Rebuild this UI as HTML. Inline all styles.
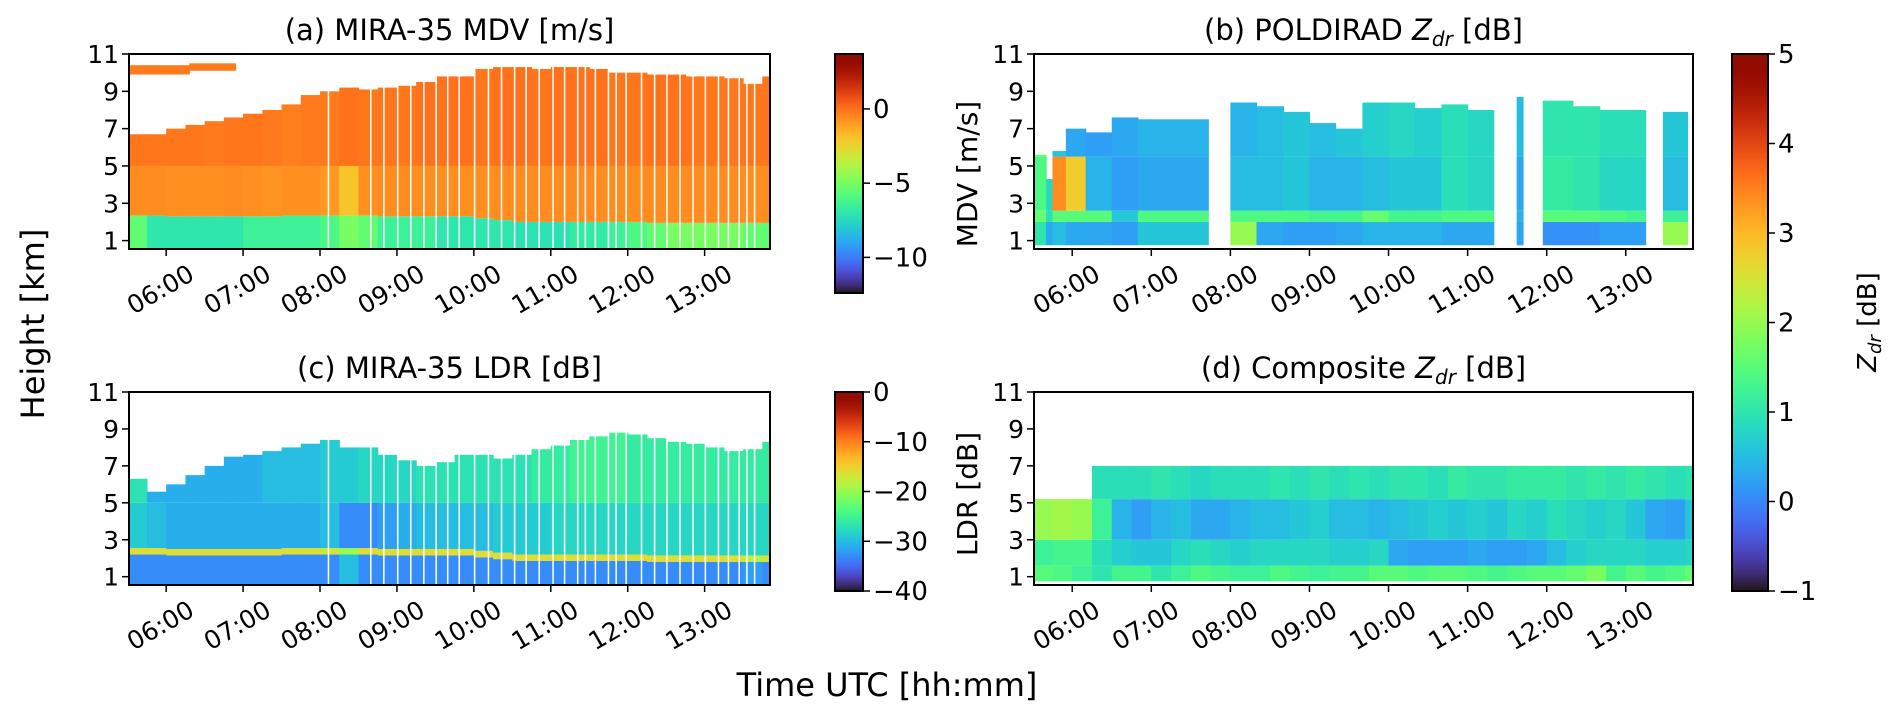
<!DOCTYPE html>
<html><head><meta charset="utf-8">
<style>
html,body{margin:0;padding:0;background:#fff;}
svg{display:block;font-family:"DejaVu Sans","Liberation Sans",sans-serif;}
</style></head>
<body>
<svg id="fig" width="1892" height="719" viewBox="0 0 1892 719" xmlns="http://www.w3.org/2000/svg">
<defs id="defs"></defs>
</svg>
<script>
// ---------- data ----------
const T0 = 5 + 31/60, T1 = 13 + 51/60;
const hourTicks = [6,7,8,9,10,11,12,13];
const hourLabels = ["06:00","07:00","08:00","09:00","10:00","11:00","12:00","13:00"];
const heightTicks = [1,3,5,7,9,11];
const binStart0 = 5.5, binWidth = 0.25;

// panel (a) MDV
const aTop = [6.7,6.7,7.0,7.2,7.4,7.6,7.8,8.0,8.3,8.8,9.0,9.2,9.1,9.2,9.3,9.5,9.8,9.8,10.2,10.3,10.3,10.2,10.3,10.3,10.2,10.0,10.0,9.9,9.9,9.8,9.8,9.7,9.4,9.8];
const aMl  = [2.35,2.35,2.3,2.3,2.3,2.3,2.3,2.3,2.35,2.35,2.35,2.35,2.35,2.3,2.3,2.3,2.3,2.3,2.2,2.1,2.0,2.0,2.0,2.0,2.0,2.0,2.0,1.95,1.95,1.95,1.95,1.95,1.95,1.95];
const aUp  = [-0.1,-0.1,-0.1,-0.1,-0.2,-0.1,-0.1,-0.2,-0.3,-0.2,-0.2,0.0,-0.1,-0.1,-0.1,0.0,0.0,0.0,-0.1,0.0,0.0,-0.1,0.0,0.0,0.0,-0.1,-0.1,0.0,0.0,-0.1,-0.1,-0.1,-0.1,-0.1];
const aMid = [-0.6,-0.6,-0.7,-0.7,-0.7,-0.6,-0.7,-0.8,-0.7,-0.7,-0.9,-2.0,-0.7,-0.6,-0.6,-0.7,-0.7,-0.7,-0.7,-0.6,-0.6,-0.6,-0.6,-0.6,-0.6,-0.6,-0.6,-0.6,-0.6,-0.6,-0.6,-0.6,-0.7,-0.6];
const aLow = [-5.5,-7,-7,-7,-7,-7,-6.5,-6.5,-6.5,-6.5,-6,-5,-5.5,-6.5,-6.5,-6.5,-7,-7,-7,-7,-7.2,-7.2,-7.2,-6.8,-6.8,-6.5,-6,-5.5,-5,-5,-5,-5,-5.5,-5.5];
const gapTimes = [8.10,8.65,8.82,9.00,9.17,9.34,9.50,9.65,9.80,10.00,10.18,10.35,10.52,10.67,10.84,11.02,11.17,11.34,11.44,11.57,11.74,11.84,11.97,12.17,12.34,12.50,12.67,12.84,13.00,13.17,13.30,13.44,13.54,13.64];

// panel (c) LDR
const cTop = [6.3,5.6,6.0,6.5,7.0,7.5,7.6,7.8,8.0,8.2,8.4,8.0,8.0,7.6,7.3,7.0,7.2,7.6,7.6,7.4,7.6,7.9,8.1,8.4,8.6,8.8,8.7,8.5,8.3,8.2,8.0,7.8,7.9,8.3];
const cMid = [-29,-30,-31,-31,-31,-31,-31,-31,-31,-31,-30,-33,-33,-32,-31,-30,-30,-30,-30,-29,-29,-29,-28,-28,-28,-28,-28,-28,-28,-28,-28,-28,-28,-28];
const cUp  = [-27,-31,-31,-31,-31,-31,-31,-30,-30,-30,-29,-29,-28,-28,-28,-27,-27,-27,-27,-27,-27,-26,-26,-25,-25,-25,-26,-26,-26,-26,-26,-26,-26,-26];
const cLow = [-33,-33,-33,-33,-33,-33,-33,-33,-33,-33,-33,-30,-33,-33,-33,-33,-33,-33,-33,-33,-33,-33,-33,-33,-33,-33,-33,-33,-33,-33,-33,-33,-32,-33];
const cBand = [-16,-16,-16,-16,-16,-16,-16,-16,-16,-16,-17,-20,-16,-16,-16,-16,-16,-16,-16,-16,-16,-16,-16,-16,-16,-16,-16,-16,-16,-16,-16,-16,-18,-17];

// panel (b) POLDIRAD Zdr segments
const bStart = [5.52,5.67,5.75,5.92,6.17,6.5,6.83,8.0,8.33,8.67,9.0,9.33,9.67,10.0,10.33,10.67,11.0,11.62,11.95,12.33,12.67,13.0,13.47];
const bEnd   = [5.67,5.75,5.92,6.17,6.5,6.83,7.72,8.33,8.67,9.0,9.33,9.67,10.0,10.33,10.67,11.0,11.33,11.7,12.33,12.67,13.0,13.25,13.78];
const bTop   = [5.6,4.3,5.8,7.0,6.8,7.6,7.5,8.4,8.2,7.9,7.3,7.0,8.4,8.4,8.1,8.3,8.0,8.7,8.5,8.2,8.0,8.0,7.9];
const bUp    = [1.6,0.8,0.6,0.3,0.2,0.3,0.4,0.4,0.5,0.6,0.5,0.6,0.7,0.8,0.7,0.9,0.8,0.5,1.0,1.0,0.9,0.9,0.6];
const bMid   = [1.4,0.8,3.4,2.8,0.4,0.2,0.3,0.5,0.5,0.6,0.4,0.4,0.5,0.6,0.6,0.9,0.8,0.3,1.1,1.0,0.8,0.8,0.5];
const bBand  = [1.6,0.9,1.5,1.5,1.5,0.6,1.4,1.4,1.4,1.4,1.3,1.3,1.6,1.3,1.3,1.4,1.4,0.4,1.5,1.5,1.4,1.3,1.2];
const bLow   = [1.0,0.3,0.5,0.3,0.3,0.2,0.6,2.0,0.3,0.2,0.2,0.3,0.4,0.4,0.4,0.3,0.3,0.3,0.1,0.1,0.2,0.2,2.0];

// panel (d) composite Zdr
const dTop = [5.2,5.2,5.2,7,7,7,7,7,7,7,7,7,7,7,7,7,7,7,7,7,7,7,7,7,7,7,7,7,7,7,7,7,7,7];
const dUp  = [1,1,1,0.9,0.9,0.9,1.0,0.9,0.8,0.9,0.9,0.9,1.0,0.9,1.0,0.9,1.0,0.9,1.0,1.0,0.9,1.1,1.0,1.0,1.1,1.1,1.1,1.0,1.1,1.0,1.1,1.0,0.9,1.0];
const dMid = [2.0,2.1,2.0,1.2,0.4,0.2,0.4,0.5,0.3,0.3,0.4,0.5,0.5,0.6,0.7,0.5,0.5,0.4,0.5,0.6,0.7,0.6,0.7,0.6,0.8,0.7,0.9,0.8,0.7,0.8,0.6,0.3,0.2,0.6];
const dMl  = [1.2,1.3,1.3,0.9,0.7,0.6,0.6,0.8,0.9,0.8,0.7,0.8,0.8,0.8,0.8,0.7,0.7,0.8,0.3,0.2,0.2,0.2,0.3,0.2,0.2,0.3,0.5,0.7,0.8,0.8,0.8,0.7,0.7,0.8];
const dLow = [1.5,1.4,1.2,1.0,1.3,1.3,1.0,1.2,1.4,1.3,1.2,1.2,1.4,1.3,1.2,1.3,1.3,1.5,1.5,1.4,1.5,1.5,1.4,1.3,1.4,1.5,1.5,1.6,1.8,1.3,1.5,1.3,1.4,1.6];

const mdvTicks = [0,-5,-10], mdvLabels = ["0","\u22125","\u221210"];
const ldrTicks = [0,-10,-20,-30,-40], ldrLabels = ["0","\u221210","\u221220","\u221230","\u221240"];
const zdrTicks = [5,4,3,2,1,0,-1], zdrLabels = ["5","4","3","2","1","0","\u22121"];

// ---------- helpers ----------
const NS = "http://www.w3.org/2000/svg";
const svg = document.getElementById("fig");
function mk(tag, attrs, parent){ const e=document.createElementNS(NS,tag); for(const k in attrs) e.setAttribute(k,attrs[k]); (parent||svg).appendChild(e); return e; }
function turbo(x){
  x=Math.max(0,Math.min(1,x));
  const r=0.13572138+x*(4.61539260+x*(-42.66032258+x*(132.13108234+x*(-152.94239396+x*59.28637943))));
  const g=0.09140261+x*(2.19418839+x*(4.84296658+x*(-14.18503333+x*(4.27729857+x*2.82956604))));
  const b=0.10667330+x*(12.64194608+x*(-60.58204836+x*(110.36276771+x*(-89.90310912+x*27.34824973))));
  const c=v=>Math.round(255*Math.max(0,Math.min(1,v)));
  return `rgb(${c(r)},${c(g)},${c(b)})`;
}
const P = {
  a:{L:129,R:770,T:54,B:249},
  c:{L:129,R:770,T:392,B:585},
  b:{L:1034,R:1693,T:54,B:249},
  d:{L:1034,R:1693,T:392,B:585}
};
function xs(t,p){ return p.L+(t-T0)/(T1-T0)*(p.R-p.L); }
function ys(h,p){ return p.B-(h-0.55)/(11-0.55)*(p.B-p.T); }
function cell(p,t0,t1,h0,h1,color,g,name){
  t0=Math.max(t0,T0); t1=Math.min(t1,T1); if(t1<=t0||h1<=h0) return;
  const x0=xs(t0,p), x1=xs(t1,p), y0=ys(h1,p), y1=ys(h0,p);
  const r=mk("rect",{x:x0.toFixed(2),y:y0.toFixed(2),width:(x1-x0+0.6).toFixed(2),height:(y1-y0).toFixed(2),fill:color},g);
  
  
}
function text(str,x,y,size,attrs,parent){ const t=mk("text",Object.assign({x:x,y:y,"font-size":size,fill:"#000"},attrs||{}),parent); t.textContent=str; return t; }

function axes(p,key,title,isZdr){
  const g=mk("g",{});
  
  
  const fr=mk("rect",{x:p.L,y:p.T,width:p.R-p.L,height:p.B-p.T,fill:"none",stroke:"#000","stroke-width":2},g);
  
  
  heightTicks.forEach(h=>{
    const y=ys(h,p);
    mk("line",{x1:p.L-7,x2:p.L,y1:y,y2:y,stroke:"#000","stroke-width":1.5},g);
    const t=text(String(h),p.L-10,y+9,25,{"text-anchor":"end"},g);
    
    
  });
  hourTicks.forEach((h,i)=>{
    const x=xs(h,p);
    mk("line",{x1:x,x2:x,y1:p.B,y2:p.B+7,stroke:"#000","stroke-width":1.5},g);
    const cy=p.B+40;
    const t=text(hourLabels[i],x-6,cy+9,25,{"text-anchor":"middle",transform:`rotate(-30 ${x-6} ${cy})`},g);
    
    
  });
  const cx=(p.L+p.R)/2;
  const tt=mk("text",{x:cx,y:p.T-14,"font-size":29,"text-anchor":"middle",fill:"#000"},g);
  
  
  if(isZdr){
    const s1=mk("tspan",{},tt); s1.textContent=title+" ";
    const s2=mk("tspan",{"font-style":"italic"},tt); s2.textContent="Z";
    const s3=mk("tspan",{"font-style":"italic","font-size":20,dy:6},tt); s3.textContent="dr";
    const s4=mk("tspan",{dy:-6},tt); s4.textContent=" [dB]";
  } else tt.textContent=title;
}
function colorbar(key,x,w,top,bot,vmax,vmin,ticks,labels){
  const gid="grad-"+key;
  const lg=mk("linearGradient",{id:gid,x1:0,y1:0,x2:0,y2:1},document.getElementById("defs"));
  for(let i=0;i<=30;i++){ mk("stop",{offset:(i/30).toFixed(3),"stop-color":turbo(1-i/30)},lg); }
  const g=mk("g",{});
  
  
  mk("rect",{x:x,y:top,width:w,height:bot-top,fill:`url(#${gid})`,stroke:"#000","stroke-width":2},g);
  ticks.forEach((v,i)=>{
    const y=top+(vmax-v)/(vmax-vmin)*(bot-top);
    mk("line",{x1:x+w,x2:x+w+7,y1:y,y2:y,stroke:"#000","stroke-width":1.5},g);
    const t=text(labels[i],x+w+10,y+9,26,{},g);
    
    
  });
}

// ---------- panel (a) ----------
(function(){
  const p=P.a, g=mk("g",{});
  
  
  const nz=v=>turbo((v+12.4)/(3.7+12.4));
  aTop.forEach((top,i)=>{
    const t0=binStart0+i*binWidth, t1=t0+binWidth;
    cell(p,t0,t1,0.55,aMl[i],nz(aLow[i]),g,'mdv-cell-low');
    cell(p,t0,t1,aMl[i],5,nz(aMid[i]),g,'mdv-cell-mid');
    cell(p,t0,t1,5,top,nz(aUp[i]),g,'mdv-cell-up');
  });
  cell(p,5.52,6.3,9.9,10.4,nz(-0.2),g,'mdv-high-cloud');
  cell(p,6.3,6.9,10.1,10.5,nz(-0.2),g,'mdv-high-cloud');
  gapTimes.forEach(t=>{ cell(p,t,t+0.012,0.55,10.6,"#fff",g,'mdv-gap'); });
  axes(p,"a","(a) MIRA-35 MDV [m/s]");
})();
// ---------- panel (c) ----------
(function(){
  const p=P.c, g=mk("g",{});
  
  
  const nz=v=>turbo((v+40)/40);
  cTop.forEach((top,i)=>{
    const t0=binStart0+i*binWidth, t1=t0+binWidth, ml=aMl[i];
    cell(p,t0,t1,0.55,ml-0.15,nz(cLow[i]),g,'ldr-cell-low');
    cell(p,t0,t1,ml-0.15,ml+0.2,nz(cBand[i]),g,'ldr-melting-layer');
    cell(p,t0,t1,ml+0.2,5,nz(cMid[i]),g,'ldr-cell-mid');
    cell(p,t0,t1,5,top,nz(cUp[i]),g,'ldr-cell-up');
  });
  gapTimes.forEach(t=>{ cell(p,t,t+0.012,0.55,9.5,"#fff",g,'ldr-gap'); });
  axes(p,"c","(c) MIRA-35 LDR [dB]");
})();
// ---------- panel (b) ----------
(function(){
  const p=P.b, g=mk("g",{});
  
  
  const nz=v=>turbo((v+1)/6);
  bStart.forEach((s,i)=>{
    const e=bEnd[i], top=bTop[i];
    cell(p,s,e,0.75,2.0,nz(bLow[i]),g,'zdr-cell-low');
    cell(p,s,e,2.0,Math.min(2.6,top),nz(bBand[i]),g,'zdr-cell-band');
    cell(p,s,e,2.6,Math.min(5.5,top),nz(bMid[i]),g,'zdr-cell-mid');
    cell(p,s,e,5.5,top,nz(bUp[i]),g,'zdr-cell-up');
  });
  axes(p,"b","(b) POLDIRAD",true);
})();
// ---------- panel (d) ----------
(function(){
  const p=P.d, g=mk("g",{});
  
  
  const nz=v=>turbo((v+1)/6);
  dTop.forEach((top,i)=>{
    const t0=binStart0+i*binWidth, t1=t0+binWidth;
    cell(p,t0,t1,0.75,1.6,nz(dLow[i]),g,'comp-cell-low');
    cell(p,t0,t1,1.6,3.0,nz(dMl[i]),g,'comp-cell-ml');
    cell(p,t0,t1,3.0,Math.min(5.2,top),nz(dMid[i]),g,'comp-cell-mid');
    cell(p,t0,t1,5.2,top,nz(dUp[i]),g,'comp-cell-up');
  });
  axes(p,"d","(d) Composite",true);
})();

// ---------- colorbars ----------
colorbar("mdv",835,28,54,293,3.7,-12.4,mdvTicks,mdvLabels);
colorbar("ldr",835,28,392,591,0,-40,ldrTicks,ldrLabels);
colorbar("zdr",1732,36,54,591,5,-1,zdrTicks,zdrLabels);

// ---------- shared labels ----------
let t;
t=text("MDV [m/s]",0,0,28,{"text-anchor":"middle",transform:"translate(977 174) rotate(-90)"});


t=text("LDR [dB]",0,0,28,{"text-anchor":"middle",transform:"translate(977 494) rotate(-90)"});


t=mk("text",{"font-size":26,"text-anchor":"middle",fill:"#000",transform:"translate(1876 322) rotate(-90)"});
t.innerHTML='<tspan font-style="italic">Z</tspan><tspan font-style="italic" font-size="18" dy="5">dr</tspan><tspan dy="-5"> [dB]</tspan>';


t=text("Height [km]",0,0,32,{"text-anchor":"middle",transform:"translate(44 324) rotate(-90)"});


t=text("Time UTC [hh:mm]",887,696,32,{"text-anchor":"middle"});


</script>
</body></html>
